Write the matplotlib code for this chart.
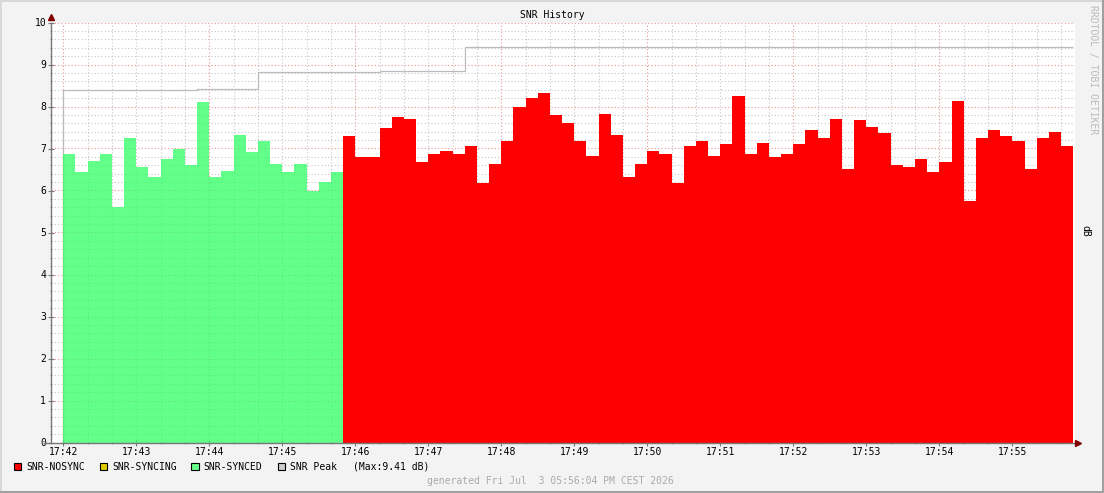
import matplotlib.pyplot as plt
from matplotlib.patches import Rectangle
from matplotlib.lines import Line2D
import numpy as np

# 10 second steps starting at 17:42:00
stepSeconds = 10
syncedValues = [6.86, 6.44, 6.71, 6.86, 5.60, 7.26, 6.57, 6.33, 6.76, 6.98, 6.60, 8.10,
                6.31, 6.46, 7.31, 6.91, 7.19, 6.62, 6.44, 6.64, 5.99, 6.21, 6.44]
nosyncValues = [7.29, 6.79, 6.79, 7.50, 7.74, 7.71, 6.69, 6.88, 6.95, 6.86, 7.05, 6.17,
                6.62, 7.19, 7.98, 8.21, 8.33, 7.79, 7.60, 7.17, 6.83, 7.83, 7.33, 6.33,
                6.62, 6.95, 6.86, 6.17, 7.05, 7.19, 6.83, 7.10, 8.24, 6.88, 7.14, 6.79,
                6.86, 7.10, 7.43, 7.26, 7.71, 6.52, 7.69, 7.52, 7.36, 6.60, 6.55, 6.76,
                6.45, 6.69, 8.12, 5.76, 7.24, 7.43, 7.29, 7.17, 6.52, 7.24, 7.40, 7.05]
# peak line: change points (seconds after 17:42) and levels
peakStarts = [0, 110, 160, 260, 330]
peakLevels = [8.40, 8.42, 8.83, 8.85, 9.41]
peakEnd = 830
minuteLabels = ['17:42', '17:43', '17:44', '17:45', '17:46', '17:47', '17:48',
                '17:49', '17:50', '17:51', '17:52', '17:53', '17:54', '17:55']

W, H = 1104, 493
def fx(px):
	return px / W
def fy(py):
	return 1 - py / H

monoFont = 'DejaVu Sans Mono'
fontSize = 7

fig = plt.figure(figsize=(W / 100, H / 100), dpi=100, facecolor='#F3F3F3')
ax = fig.add_axes([fx(51), fy(442.5), fx(1075) - fx(51), fy(22.5) - fy(442.5)])
ax.set_facecolor('white')

nSynced = len(syncedValues)
syncedEdges = np.arange(nSynced + 1) * stepSeconds
nosyncEdges = (nSynced + np.arange(len(nosyncValues) + 1)) * stepSeconds
# synced area is semi transparent, so the grid shows through it
ax.stairs(syncedValues, syncedEdges, fill=True, color='#33FF66', alpha=0.77, linewidth=0, zorder=2)
ax.stairs(nosyncValues, nosyncEdges, fill=True, color='#FF0000', linewidth=0, zorder=2)

peakEdges = peakStarts + [peakEnd]
ax.stairs(peakLevels, peakEdges, baseline=None, color='#BBBBBB', linewidth=0.9, zorder=1.5)
ax.vlines(peakStarts[0], 0, peakLevels[0], color='#BBBBBB', linewidth=0.9, zorder=1.5)

ax.set_xlim(-10.1, 831.5)
ax.set_ylim(0, 10)

# grid behind the areas
minorColor = '#C6C6C6'
majorColor = '#EE9494'
for t in range(0, 840, 20):
	col = majorColor if t % 120 == 0 else minorColor
	ax.axvline(t, color=col, linewidth=0.8, dashes=(1, 2), zorder=1)
for v in np.arange(0.2, 10.01, 0.2):
	col = majorColor if abs(v - round(v)) < 1e-6 else minorColor
	ax.axhline(v, color=col, linewidth=0.8, dashes=(1, 2), zorder=1)

for s in ax.spines.values():
	s.set_visible(False)
axisColor = '#777777'
ax.add_line(Line2D([-0.007, 1.0], [0, 0], transform=ax.transAxes, color=axisColor,
	linewidth=1, clip_on=False, zorder=4))
ax.add_line(Line2D([0, 0], [0, 1.0], transform=ax.transAxes, color=axisColor,
	linewidth=1, clip_on=False, zorder=4))
ax.plot([0], [1.012], marker='^', markersize=4, color='#800000', transform=ax.transAxes,
	clip_on=False, zorder=5)
ax.plot([1.0025], [0], marker='>', markersize=4, color='#800000', transform=ax.transAxes,
	clip_on=False, zorder=5)

ax.set_xticks(np.arange(len(minuteLabels)) * 60)
ax.set_xticklabels(minuteLabels, fontfamily=monoFont, fontsize=fontSize)
ax.set_xticks(np.arange(0, 831, 20), minor=True)
ax.set_yticks(range(0, 11))
ax.set_yticklabels([str(v) for v in range(0, 11)], fontfamily=monoFont, fontsize=fontSize)
ax.set_yticks(np.arange(0, 10.01, 0.2), minor=True)
ax.tick_params(axis='both', which='major', direction='inout', length=4, width=0.8,
	colors=axisColor, labelcolor='black', pad=1.5)
ax.tick_params(axis='both', which='minor', direction='inout', length=2, width=0.6,
	colors='#999999')

fig.text(fx(552), fy(15), 'SNR History', ha='center', va='center',
	fontfamily=monoFont, fontsize=fontSize)
fig.text(fx(1093), fy(5), 'RRDTOOL / TOBI OETIKER', ha='center', va='top', rotation=270,
	fontfamily=monoFont, fontsize=fontSize, color='#BBBBBB')
fig.text(fx(1085), fy(231), 'dB', ha='center', va='center', rotation=270,
	fontfamily=monoFont, fontsize=fontSize)

# legend
legendItems = [(13.5, '#FF0000', 26.7, 'SNR-NOSYNC'),
               (99.5, '#DDCC00', 112, 'SNR-SYNCING'),
               (191, '#66FF88', 203.7, 'SNR-SYNCED'),
               (277.5, '#CCCCCC', 290, 'SNR Peak')]
for sqX, col, txtX, label in legendItems:
	fig.patches.append(Rectangle((fx(sqX), fy(470)), 7.5 / W, 7.5 / H, facecolor=col,
		edgecolor='black', linewidth=0.8, transform=fig.transFigure, figure=fig))
	fig.text(fx(txtX), fy(466.5), label, ha='left', va='center',
		fontfamily=monoFont, fontsize=fontSize)
fig.text(fx(352.7), fy(466.5), '(Max:%.2f dB)' % max(peakLevels), ha='left', va='center',
	fontfamily=monoFont, fontsize=fontSize)
fig.text(fx(426.7), fy(481), 'generated Fri Jul  3 05:56:04 PM CEST 2026', ha='left',
	va='center', fontfamily=monoFont, fontsize=fontSize, color='#AAAAAA')

# frame shading
fig.add_artist(Line2D([0, 1], [fy(0.5), fy(0.5)], color='#D8D8D8', linewidth=1.4))
fig.add_artist(Line2D([fx(0.5), fx(0.5)], [0, 1], color='#D8D8D8', linewidth=1.4))
fig.add_artist(Line2D([0, 1], [fy(491.5), fy(491.5)], color='#A0A0A0', linewidth=2.2))
fig.add_artist(Line2D([fx(1102.5), fx(1102.5)], [0, 1], color='#A0A0A0', linewidth=2.2))

fig.savefig('out.png', dpi=100, facecolor=fig.get_facecolor())
